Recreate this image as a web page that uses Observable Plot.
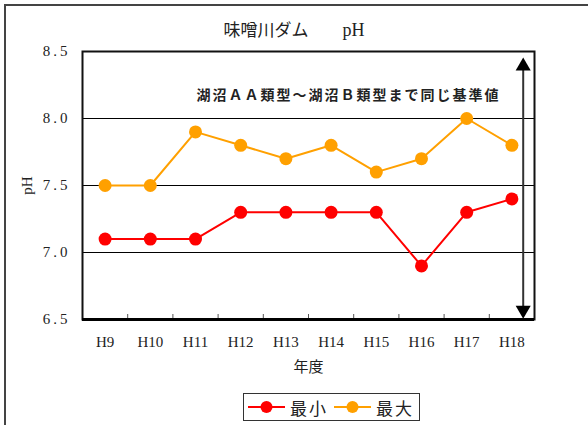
<!DOCTYPE html>
<html>
<head>
<meta charset="utf-8">
<script src="https://cdn.jsdelivr.net/npm/d3@7"></script>
<script src="https://cdn.jsdelivr.net/npm/@observablehq/plot@0.6"></script>
<style>
  html, body { margin: 0; padding: 0; background: #fff; }
  body { width: 588px; height: 425px; overflow: hidden; position: relative; }
  #frame { position: absolute; left: 4px; top: 4px; width: 700px; height: 600px;
           border-left: 2px solid #444; border-top: 2px solid #444; }
  #chart { position: absolute; left: 0; top: 0; }
  #title { position: absolute; left: 0; width: 588px; top: 16px; text-align: center;
           font-family: "Noto Sans CJK JP", sans-serif; font-size: 17px; color: #222; }
  #title .ph { font-family: "Liberation Serif", serif; font-size: 18px; }
  #legend { position: absolute; left: 243px; top: 393px; width: 175px; height: 26px;
            border: 1px solid #333; display: flex; align-items: center; background: #fff;
            font-family: "Noto Sans CJK JP", sans-serif; font-size: 17px; color: #222; }
  #legend .item { display: flex; align-items: center; }
  #legend svg { display: block; }
</style>
</head>
<body>
<div id="frame"></div>
<div id="chart"></div>
<div id="title">味噌川ダム　　<span class="ph">pH</span></div>
<div id="legend"></div>
<script>
const years = ["H9", "H10", "H11", "H12", "H13", "H14", "H15", "H16", "H17", "H18"];
const minVals = [7.1, 7.1, 7.1, 7.3, 7.3, 7.3, 7.3, 6.9, 7.3, 7.4];
const maxVals = [7.5, 7.5, 7.9, 7.8, 7.7, 7.8, 7.6, 7.7, 8.0, 7.8];
const yTicks = [6.5, 7.0, 7.5, 8.0, 8.5];
const gridVals = [7.0, 7.5, 8.0];
const seriesNames = ["最小", "最大"];
const seriesColors = ["#ff0000", "#ffa000"];
const note = "湖沼ＡＡ類型～湖沼Ｂ類型まで同じ基準値";
const standardLow = 6.5, standardHigh = 8.5;
const xTitle = "年度";
const yTitle = "pH";

const rows = [];
years.forEach((y, i) => {
  rows.push({year: y, idx: i + 0.5, value: minVals[i], series: seriesNames[0]});
  rows.push({year: y, idx: i + 0.5, value: maxVals[i], series: seriesNames[1]});
});
const centers = years.map((y, i) => i + 0.5);
const bounds = years.slice(1).map((y, i) => i + 1);
const arrowX = years.indexOf("H18") + 0.75;
const arrowRows = [{x: arrowX, lo: standardLow, hi: standardHigh}];

const downTriangle = {
  draw(context, size) {
    const y = Math.sqrt(size / (Math.sqrt(3) * 3));
    context.moveTo(0, y * 2);
    context.lineTo(-Math.sqrt(3) * y, -y);
    context.lineTo(Math.sqrt(3) * y, -y);
    context.closePath();
  }
};

const plot = Plot.plot({
  width: 588,
  height: 425,
  marginLeft: 82,
  marginRight: 54,
  marginTop: 51,
  marginBottom: 106,
  style: {fontFamily: "'Liberation Serif', 'Noto Sans CJK JP', serif", fontSize: "15px", color: "#222", background: "transparent"},
  x: {domain: [0, years.length]},
  y: {domain: [standardLow, standardHigh]},
  color: {domain: seriesNames, range: seriesColors},
  marks: [
    Plot.ruleY(gridVals, {stroke: "#000", strokeWidth: 1}),
    Plot.axisY({ticks: yTicks, tickFormat: d3.format(".1f"), tickSize: 0, tickPadding: 12,
                label: yTitle, labelAnchor: "center", labelArrow: "none", labelOffset: 61, fontSize: 15}),
    Plot.axisX({ticks: centers, tickFormat: d => years[Math.floor(d)], tickSize: 0, tickPadding: 17,
                label: xTitle, labelAnchor: "center", labelArrow: "none", labelOffset: 52, fontSize: 15}),
    Plot.axisX({ticks: bounds, tickFormat: () => "", tickSize: -5, label: null, stroke: "#555"}),
    Plot.line(rows, {x: "idx", y: "value", stroke: "series", z: "series", strokeWidth: 2}),
    Plot.dot(rows, {x: "idx", y: "value", fill: "series", r: 6.5}),
    Plot.frame({stroke: "#111", strokeWidth: 2}),
    Plot.ruleY([standardLow], {stroke: "#000", strokeWidth: 3}),
    Plot.ruleX(arrowRows, {x: "x", y1: "hi", y2: "lo", insetTop: 18, insetBottom: 12, stroke: "#333", strokeWidth: 2}),
    Plot.dot(arrowRows, {x: "x", y: "hi", symbol: "triangle", r: 5.6, fill: "#000", stroke: "none", dy: 14.6}),
    Plot.dot(arrowRows, {x: "x", y: "lo", symbol: downTriangle, r: 5.6, fill: "#000", stroke: "none", dy: -9.4}),
    Plot.text([note], {frameAnchor: "top-right", dx: -34, dy: 39, textAnchor: "end", fontWeight: "bold",
                       fontSize: 14, fill: "#222", fontFamily: "'Noto Sans CJK JP', sans-serif"})
  ]
});
document.getElementById("chart").appendChild(plot);

// styling tweaks
d3.select(plot).selectAll("text").each(function() {
  const t = d3.select(this);
  if (t.text() === note) t.attr("letter-spacing", "2px");
});
d3.select(plot).selectAll("[aria-label='y-axis tick label'] text").attr("letter-spacing", "3px");

// legend
const legend = d3.select("#legend");
seriesNames.forEach((name, i) => {
  const item = legend.append("div").attr("class", "item").style("margin-left", i === 0 ? "4px" : "6px");
  const s = item.append("svg").attr("width", 37).attr("height", 14);
  s.append("line").attr("x1", 0).attr("x2", 37).attr("y1", 7).attr("y2", 7)
    .attr("stroke", seriesColors[i]).attr("stroke-width", 2);
  s.append("circle").attr("cx", 18.5).attr("cy", 7).attr("r", 6).attr("fill", seriesColors[i]);
  item.append("span").style("margin-left", "5px").style("letter-spacing", "2px").text(name);
});
</script>
</body>
</html>
